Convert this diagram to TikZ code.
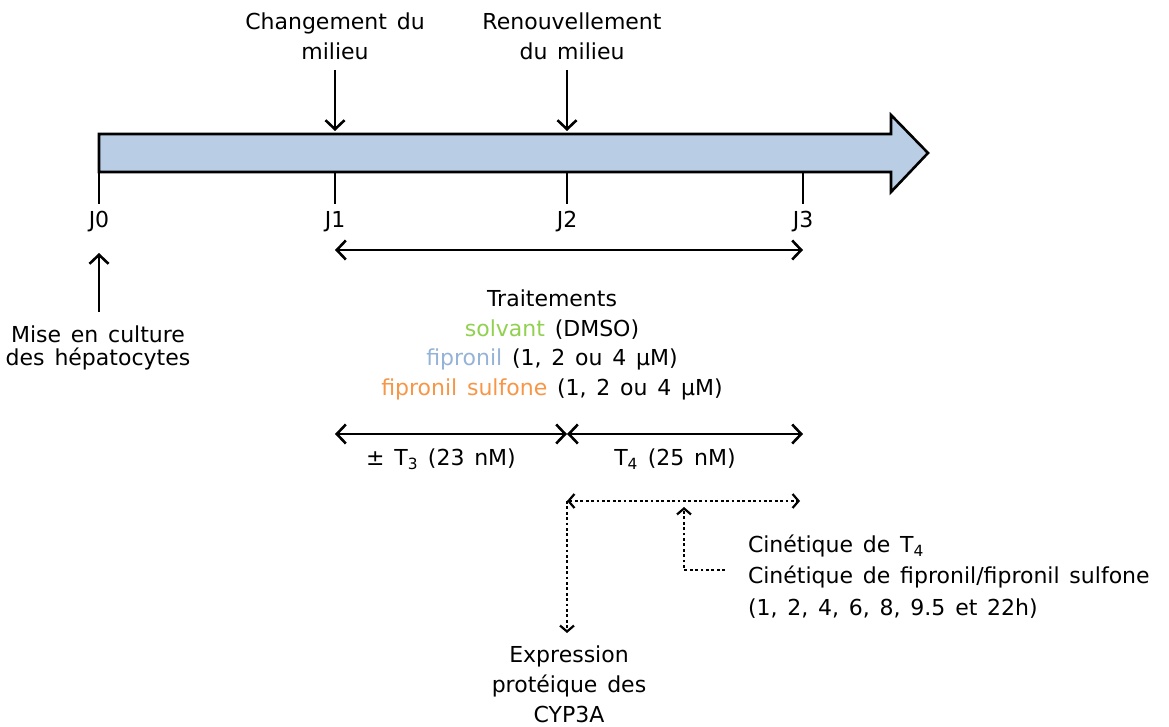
\documentclass[tikz,border=0pt]{standalone}
\usepackage{fontspec}
\setmainfont[WordSpace=1.4]{DejaVu Sans}
\usetikzlibrary{arrows.meta}
\definecolor{barfill}{HTML}{B9CDE5}
\definecolor{cgreen}{HTML}{92D050}
\definecolor{cblue}{HTML}{95B3D7}
\definecolor{corange}{HTML}{F79646}
\tikzset{
  lbl/.style={inner sep=0pt, outer sep=0pt, anchor=base, align=center, font=\fontsize{22}{30}\selectfont},
  conn/.style={line width=2.6pt},
  tipA/.style={-{Straight Barb[length=9pt,width=19pt]}},
  tipB/.style={{Straight Barb[length=9pt,width=19pt]}-{Straight Barb[length=9pt,width=19pt]}},
  dots/.style={line width=2.8pt, dash pattern=on 2.8pt off 2.6pt},
  dtipA/.style={-{Straight Barb[length=6pt,width=14pt,line width=2.2pt]}},
  dtipB/.style={{Straight Barb[length=6pt,width=14pt,line width=2.2pt]}-{Straight Barb[length=6pt,width=14pt,line width=2.2pt]}},
}
\begin{document}
\begin{tikzpicture}[x=1pt,y=-1pt]
\useasboundingbox (0,0) rectangle (1169,727);
% main arrow
\draw[line width=2.6pt, fill=barfill, line join=miter]
  (99,134) -- (891,134) -- (891,115) -- (928,153) -- (891,192) -- (891,172) -- (99,172) -- cycle;
% ticks
\foreach \x/\n in {99/0,335/1,567/2,803/3}{
  \coordinate (t\n) at (\x,172);
  \draw[conn] (\x,172) -- (\x,204);
  \node[lbl] (J\n) at (\x,228) {J\n};
}
% top labels (base anchor = last line)
\node[lbl] (chg) at (335,60) {Changement du\\milieu};
\node[lbl] (ren) at (572,60) {Renouvellement\\du milieu};
\coordinate (chgA) at (335,70);
\coordinate (chgB) at (335,131);
\coordinate (renA) at (567,70);
\coordinate (renB) at (567,131);
\draw[conn,tipA] (chgA) -- (chgB);
\draw[conn,tipA] (renA) -- (renB);
% J0 up arrow
\node[lbl, font=\fontsize{22}{23}\selectfont] (mise) at (98,365) {Mise en culture\\des hépatocytes};
\coordinate (miseA) at (99,312);
\coordinate (miseB) at (99,253);
\draw[conn,tipA] (miseA) -- (miseB);
% traitements arrow
\coordinate (trL) at (335,250);
\coordinate (trR) at (803,250);
\draw[conn,tipB] (trL) -- (trR);
\node[lbl, font=\fontsize{22}{29.5}\selectfont] (trt) at (552,395)
  {Traitements\\\textcolor{cgreen}{solvant} (DMSO)\\\textcolor{cblue}{fipronil} (1, 2 ou 4 µM)\\\textcolor{corange}{fipronil sulfone} (1, 2 ou 4 µM)};
% T3 / T4
\coordinate (aL) at (335,434);
\coordinate (aM) at (567,434);
\coordinate (aR) at (803,434);
\draw[conn,tipB] (aL) -- (aM);
\draw[conn,tipB] (aM) -- (aR);
\node[lbl] (t3) at (441,465) {± T\textsubscript{3} (23 nM)};
\node[lbl] (t4) at (675,465) {T\textsubscript{4} (25 nM)};
% dotted
\coordinate (dL) at (567,501);
\coordinate (dR) at (800,501);
\coordinate (dB) at (567,633);
\coordinate (uT) at (684,507);
\coordinate (uC) at (684,570);
\coordinate (uE) at (725,570);
\draw[dots,dtipB] (dL) -- (dR);
\draw[dots,dtipA] (dL) -- (dB);
\draw[dots,dtipA] (uE) -- (uC) -- (uT);
\node[lbl, anchor=base west, align=left, font=\fontsize{22}{31.5}\selectfont] (cin) at (748,615)
  {Cinétique de T\textsubscript{4}\\Cinétique de fipronil/fipronil sulfone\\(1, 2, 4, 6, 8, 9.5 et 22h)};
\node[lbl] (exp) at (569,722) {Expression\\protéique des\\CYP3A};
\end{tikzpicture}
\end{document}
